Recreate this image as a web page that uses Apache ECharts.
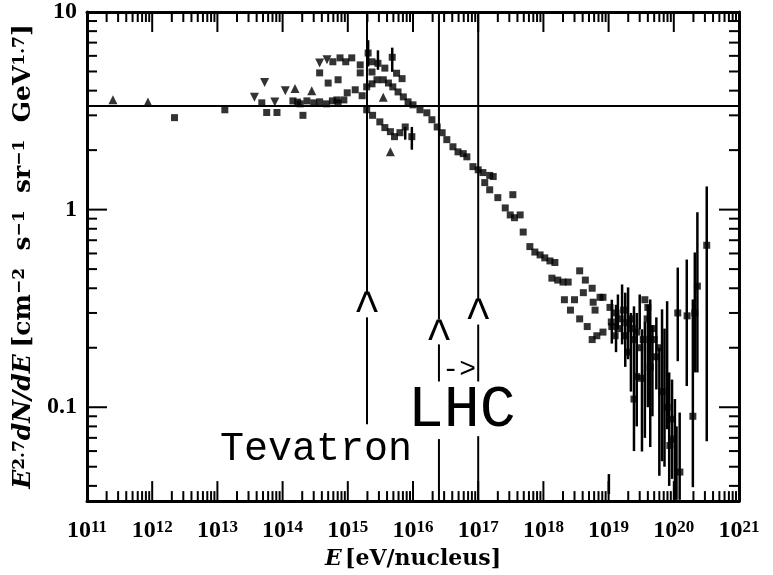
<!DOCTYPE html>
<html>
<head>
<meta charset="utf-8">
<script src="https://cdn.jsdelivr.net/npm/echarts@6/dist/echarts.min.js"></script>
<style>
html,body{margin:0;padding:0;background:#fff;}
#chart{width:773px;height:575px;}
</style>
</head>
<body>
<div id="chart"></div>
<script>
// ---------------- data ----------------
const energyRange = [1e11, 1e21];
const fluxRange = [0.0335, 10];
const xMajorTicks = [1e11, 1e12, 1e13, 1e14, 1e15, 1e16, 1e17, 1e18, 1e19, 1e20, 1e21];
const yMajorTicks = [0.1, 1, 10];
const yTickLabels = { '-1': '0.1', '0': '1', '1': '10' };
const minorMultipliers = [2, 3, 4, 5, 6, 7, 8, 9];
const xMinorDecades = [1e11, 1e12, 1e13, 1e14, 1e15, 1e16, 1e17, 1e18, 1e19, 1e20];
const yMinorDecades = [0.01, 0.1, 1];

const trianglesUp = [
  [2.5e11, 3.6], [8.6e11, 3.5], [1.55e14, 4.1], [2.8e14, 4.0], [3.5e15, 3.7], [4.5e15, 1.96]
];
const trianglesDown = [
  [3.7e13, 3.7], [5.3e13, 4.4], [7.6e13, 3.5], [1.1e14, 4.0], [3.7e14, 5.52], [4.8e14, 5.73]
];
const squares = [
  [2.2e12, 2.92], [1.3e13, 3.2], [4.8e13, 3.47], [5.7e13, 3.1], [8.2e13, 3.1], [1.7e14, 3.5], [2.05e14, 3.0],
  [1.44e14, 3.55], [1.86e14, 3.43], [2.36e14, 3.55], [3.0e14, 3.47], [3.7e14, 3.51], [4.7e14, 3.43],
  [5.8e14, 3.55], [7.1e14, 3.47], [8.7e14, 3.59],
  [3.7e14, 4.92], [5.9e14, 5.6], [7.6e14, 5.86], [9.3e14, 5.6], [1.15e15, 5.86], [1.55e15, 5.4],
  [2.05e15, 6.2], [2.35e15, 5.6], [2.9e15, 5.5], [3.7e15, 5.2], [4.8e15, 5.9], [5.6e15, 4.9], [6.8e15, 4.6],
  [5.0e14, 4.37], [7.1e14, 4.54], [1.55e15, 4.92], [2.35e15, 4.97],
  [6.8e14, 3.59], [9.8e14, 3.9], [1.3e15, 4.04], [1.66e15, 3.77], [1.95e15, 4.18], [2.35e15, 4.33],
  [2.8e15, 4.54], [3.5e15, 4.54], [4.2e15, 4.37], [4.9e15, 4.18], [5.9e15, 3.94], [7.1e15, 3.72],
  [8.4e15, 3.51], [1.0e16, 3.39], [1.28e16, 3.2], [1.63e16, 3.09], [1.95e16, 2.85], [2.35e16, 2.62],
  [2.8e16, 2.45], [3.3e16, 2.26], [4.1e16, 2.08], [4.9e16, 1.96], [5.9e16, 1.92], [6.7e16, 1.85],
  [8.3e16, 1.65], [1.0e17, 1.59], [1.18e17, 1.54], [1.5e17, 1.49], [1.7e17, 1.47], [1.26e17, 1.37],
  [1.5e17, 1.26], [2.0e17, 1.15], [3.4e17, 1.19], [2.6e17, 1.02], [3.1e17, 0.94], [3.6e17, 0.91],
  [4.4e17, 0.94], [4.9e17, 0.77], [6.2e17, 0.65], [7.4e17, 0.61], [8.9e17, 0.59], [1.05e18, 0.57],
  [1.26e18, 0.55], [1.5e18, 0.54], [1.35e18, 0.45], [1.66e18, 0.44], [2.0e18, 0.43], [2.4e18, 0.43],
  [3.6e18, 0.49], [4.4e18, 0.44], [4.1e18, 0.38], [5.6e18, 0.40], [2.1e18, 0.35], [3.0e18, 0.35],
  [2.6e18, 0.31], [5.8e18, 0.34], [7.4e18, 0.36], [8.2e18, 0.36], [6.2e18, 0.31], [1.05e19, 0.32],
  [3.6e18, 0.28], [4.7e18, 0.256], [5.6e18, 0.22], [6.6e18, 0.23], [8.2e18, 0.24], [1.12e19, 0.256],
  [1.26e19, 0.23], [1.5e19, 0.28], [1.9e19, 0.268], [2.3e19, 0.25], [2.7e19, 0.24], [3.6e19, 0.35],
  [4.0e19, 0.32], [3.9e19, 0.28], [4.7e19, 0.25], [2.7e19, 0.143], [3.2e19, 0.14],
  [1.1e19, 0.27], [1.4e19, 0.25], [1.8e19, 0.23], [2.2e19, 0.28], [2.5e19, 0.22], [1.3e19, 0.30], [1.7e19, 0.31],
  [2.45e19, 0.11], [3.0e19, 0.20], [4.35e19, 0.16], [5.4e19, 0.18], [6.6e19, 0.12], [7.9e19, 0.10],
  [5.0e19, 0.22], [6.0e19, 0.20], [2.0e19, 0.19], [3.4e19, 0.22],
  [9.3e19, 0.087], [9.7e19, 0.069], [8.7e19, 0.064], [1.24e20, 0.047], [1.15e20, 0.30], [1.6e20, 0.29],
  [2.1e20, 0.30], [2.3e20, 0.41], [1.96e20, 0.090], [3.2e20, 0.66],
  [1.95e15, 3.2], [2.4e15, 3.0], [3.1e15, 2.78], [3.7e15, 2.6], [4.5e15, 2.48], [5.2e15, 2.34],
  [6.3e15, 2.45], [7.6e15, 2.62], [9.6e15, 2.34]
];
// [energy, low, high]
const errorBars = [
  [2.05e15, 5.3, 7.2], [2.9e15, 5.1, 6.4], [4.8e15, 4.98, 6.6], [7.6e15, 2.26, 2.62], [9.6e15, 2.01, 2.62],
  [1.01e19, 0.0364, 0.0459], [1.39e19, 0.248, 0.372], [1.61e19, 0.208, 0.418], [1.99e19, 0.175, 0.404],
  [2.45e19, 0.060, 0.324], [3.0e19, 0.248, 0.372], [3.25e19, 0.0597, 0.248], [4.35e19, 0.0629, 0.351],
  [5.4e19, 0.123, 0.285], [6.6e19, 0.0533, 0.313], [7.9e19, 0.0774, 0.344], [9.4e19, 0.0434, 0.138],
  [1.04e20, 0.034, 0.110], [1.23e20, 0.034, 0.094], [1.15e20, 0.171, 0.509], [1.58e20, 0.128, 0.559],
  [1.96e20, 0.0394, 0.351], [2.1e20, 0.150, 0.607], [2.3e20, 0.150, 0.97], [3.2e20, 0.0673, 1.31],
  [1.12e19, 0.21, 0.35], [1.3e19, 0.19, 0.33], [1.8e19, 0.16, 0.38], [2.2e19, 0.12, 0.30],
  [2.7e19, 0.08, 0.30], [3.6e19, 0.07, 0.27], [4.0e19, 0.10, 0.33], [4.7e19, 0.09, 0.26],
  [6.0e19, 0.045, 0.20], [7.2e19, 0.05, 0.25], [8.5e19, 0.04, 0.15], [1.1e20, 0.034, 0.08]
];
const referenceFlux = 3.35;
// vertical guide segments [energy, fluxFrom, fluxTo]
const guideSegments = [
  [1.97e15, 10, 0.372], [1.97e15, 0.285, 0.082],
  [2.5e16, 10, 0.278], [2.5e16, 0.208, 0.135], [2.5e16, 0.069, 0.0335],
  [1.0e17, 10, 0.351], [1.0e17, 0.262, 0.135], [1.0e17, 0.0714, 0.0335]
];
const annotationTexts = ['^', '^', '^', '->', 'LHC', 'Tevatron'];
const annotationAnchors = [
  [1.97e15, 0.310], [2.5e16, 0.225], [1.0e17, 0.286], [5.1e16, 0.155], [5.6e16, 0.0966], [3.25e14, 0.0614]
];

// ---------------- styles ----------------
const monoFont = '"Liberation Mono", "Courier New", monospace';
const annotationFonts = [
  '46px ' + monoFont, '46px ' + monoFont, '46px ' + monoFont,
  '28px ' + monoFont, '60px ' + monoFont, '40px ' + monoFont
];
const MAJOR_LEN = 20, MINOR_LEN = 10;

function buildMinor(decades, lo, hi) {
  const out = [];
  decades.forEach(d => minorMultipliers.forEach(m => { const v = d * m; if (v > lo && v < hi) out.push(v); }));
  return out;
}
const xMinorTicks = buildMinor(xMinorDecades, energyRange[0], energyRange[1]);
const yMinorTicks = buildMinor(yMinorDecades, fluxRange[0], fluxRange[1]);

function xTickRender(len) {
  return function (params, api) {
    const cs = params.coordSys;
    const x = api.coord([api.value(0), 1])[0];
    const top = cs.y, bottom = cs.y + cs.height;
    return { type: 'group', children: [
      { type: 'line', shape: { x1: x, y1: bottom, x2: x, y2: bottom - len }, style: { stroke: '#000', lineWidth: 2 } },
      { type: 'line', shape: { x1: x, y1: top, x2: x, y2: top + len }, style: { stroke: '#000', lineWidth: 2 } }
    ] };
  };
}
function yTickRender(len) {
  return function (params, api) {
    const cs = params.coordSys;
    const y = api.coord([1e15, api.value(1)])[1];
    const left = cs.x, right = cs.x + cs.width;
    return { type: 'group', children: [
      { type: 'line', shape: { x1: left, y1: y, x2: left + len, y2: y }, style: { stroke: '#000', lineWidth: 2 } },
      { type: 'line', shape: { x1: right, y1: y, x2: right - len, y2: y }, style: { stroke: '#000', lineWidth: 2 } }
    ] };
  };
}
function vSegmentRender(width) {
  return function (params, api) {
    const p1 = api.coord([api.value(0), api.value(1)]);
    const p2 = api.coord([api.value(0), api.value(2)]);
    return { type: 'line', shape: { x1: p1[0], y1: p1[1], x2: p2[0], y2: p2[1] }, style: { stroke: '#000', lineWidth: width } };
  };
}

const serif = '"Liberation Serif", serif';
const nameFont = '"DejaVu Serif", serif';

const chart = echarts.init(document.getElementById('chart'), null, { renderer: 'canvas' });
const option = {
  backgroundColor: '#fff',
  animation: false,
  grid: { left: 87, right: 34, top: 12, bottom: 73, containLabel: false },
  xAxis: [
    {
      type: 'log', min: energyRange[0], max: energyRange[1], interval: 1, logBase: 10,
      position: 'bottom',
      axisLine: { show: true, lineStyle: { color: '#000', width: 3 } },
      axisTick: { show: false }, splitLine: { show: false }, minorTick: { show: false },
      axisLabel: {
        show: true, margin: 18, showMinLabel: true, showMaxLabel: true,
        formatter: function (v) {
          const e = Math.log10(v), r = Math.round(e);
          if (Math.abs(e - r) > 1e-6) return '';
          return '{b|10}{s|' + r + '}';
        },
        rich: {
          b: { fontFamily: serif, fontWeight: 'bold', fontSize: 24, lineHeight: 24, color: '#000', verticalAlign: 'bottom' },
          s: { fontFamily: serif, fontWeight: 'bold', fontSize: 17, lineHeight: 12, color: '#000', verticalAlign: 'top' }
        }
      },
      name: '{i|E} {n|[eV/nucleus]}', nameLocation: 'middle', nameGap: 42,
      nameTextStyle: {
        rich: {
          i: { fontFamily: nameFont, fontWeight: 'bold', fontStyle: 'italic', fontSize: 22, color: '#000' },
          n: { fontFamily: nameFont, fontWeight: 'bold', fontSize: 22, color: '#000' }
        }
      }
    },
    {
      type: 'log', min: energyRange[0], max: energyRange[1], interval: 1, position: 'top',
      axisLine: { show: true, lineStyle: { color: '#000', width: 3 } },
      axisTick: { show: false }, axisLabel: { show: false }, splitLine: { show: false }
    }
  ],
  yAxis: [
    {
      type: 'log', min: fluxRange[0], max: fluxRange[1], logBase: 10,
      axisLine: { show: true, lineStyle: { color: '#000', width: 3 } },
      axisTick: { show: false }, splitLine: { show: false }, minorTick: { show: false },
      axisLabel: {
        show: true, margin: 10, showMinLabel: true, showMaxLabel: true,
        fontFamily: serif, fontWeight: 'bold', fontSize: 24, color: '#000',
        formatter: function (v) {
          const e = Math.log10(v), r = Math.round(e);
          if (Math.abs(e - r) > 1e-6) return '';
          return yTickLabels[String(r)] || '';
        }
      },
      name: '{i|E}{s|2.7}{i|dN/dE}  {n|[cm}{s|−2}{n|  s}{s|−1}{n|  sr}{s|−1}{n|  GeV}{s|1.7}{n|]}',
      nameLocation: 'middle', nameGap: 34, nameRotate: 90,
      nameTextStyle: {
        rich: {
          i: { fontFamily: nameFont, fontWeight: 'bold', fontStyle: 'italic', fontSize: 25, lineHeight: 25, verticalAlign: 'bottom', color: '#000' },
          n: { fontFamily: nameFont, fontWeight: 'bold', fontSize: 25, lineHeight: 25, verticalAlign: 'bottom', color: '#000' },
          s: { fontFamily: nameFont, fontWeight: 'bold', fontSize: 17, lineHeight: 12, verticalAlign: 'top', color: '#000' }
        }
      }
    },
    {
      type: 'log', min: fluxRange[0], max: fluxRange[1], position: 'right',
      axisLine: { show: true, lineStyle: { color: '#000', width: 3 } },
      axisTick: { show: false }, axisLabel: { show: false }, splitLine: { show: false }
    }
  ],
  series: [
    { type: 'custom', name: 'xMajor', silent: true, renderItem: xTickRender(MAJOR_LEN), data: xMajorTicks.map(v => [v, 1]), z: 5 },
    { type: 'custom', name: 'xMinor', silent: true, renderItem: xTickRender(MINOR_LEN), data: xMinorTicks.map(v => [v, 1]), z: 5 },
    { type: 'custom', name: 'yMajor', silent: true, renderItem: yTickRender(MAJOR_LEN), data: yMajorTicks.map(v => [1e15, v]), z: 5 },
    { type: 'custom', name: 'yMinor', silent: true, renderItem: yTickRender(MINOR_LEN), data: yMinorTicks.map(v => [1e15, v]), z: 5 },
    { type: 'custom', name: 'guides', silent: true, renderItem: vSegmentRender(2), data: guideSegments, z: 3 },
    { type: 'custom', name: 'errors', silent: true, clip: true, renderItem: vSegmentRender(2.5), data: errorBars, z: 3 },
    {
      type: 'scatter', name: 'squares', symbol: 'rect', symbolSize: 7, data: squares,
      itemStyle: { color: '#000' }, z: 4, silent: true,
      markLine: {
        silent: true, symbol: 'none', label: { show: false }, animation: false,
        lineStyle: { color: '#000', width: 2, type: 'solid' },
        data: [{ yAxis: referenceFlux }]
      }
    },
    { type: 'scatter', name: 'triUp', symbol: 'triangle', symbolSize: 9, data: trianglesUp, itemStyle: { color: '#000' }, z: 4, silent: true },
    { type: 'scatter', name: 'triDown', symbol: 'triangle', symbolRotate: 180, symbolSize: 9, data: trianglesDown, itemStyle: { color: '#000' }, z: 4, silent: true },
    {
      type: 'custom', name: 'annotations', silent: true, z: 6,
      data: annotationAnchors.map((a, i) => [a[0], a[1], i]),
      renderItem: function (params, api) {
        const i = api.value(2);
        const p = api.coord([api.value(0), api.value(1)]);
        return { type: 'text', x: p[0], y: p[1], style: { text: annotationTexts[i], font: annotationFonts[i], fill: '#000', align: 'center', verticalAlign: 'middle' } };
      }
    }
  ]
};
chart.setOption(option);
</script>
</body>
</html>
